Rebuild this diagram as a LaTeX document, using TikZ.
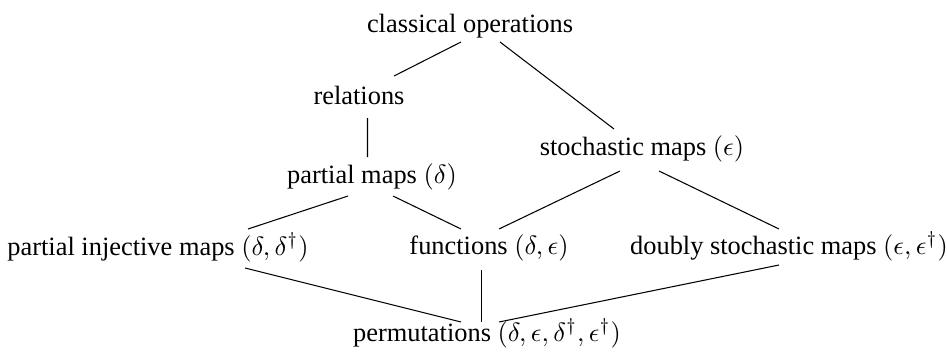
\documentclass[tikz,border=0pt]{standalone}
\usepackage{fontspec}
\setmainfont{Liberation Serif}
\usetikzlibrary{calc}
\begin{document}
\begin{tikzpicture}[x=0.3788pt,y=-0.3788pt,
  lbl/.style={anchor=base,inner sep=0pt,font=\fontsize{10pt}{12pt}\selectfont},
  edge/.style={line width=0.4pt}]
\useasboundingbox (0,0) rectangle (947,352);
\node[lbl] (co) at (470,32) {classical operations};
\node[lbl] (rel) at (359,104) {relations};
\node[lbl] (pm) at (372,183) {partial maps $(\delta)$};
\node[lbl] (sm) at (642,155) {stochastic maps $(\epsilon)$};
\node[lbl] (pim) at (158,255) {partial injective maps $(\delta,\delta^\dagger)$};
\node[lbl] (fn) at (489,254) {functions $(\delta,\epsilon)$};
\node[lbl] (dsm) at (789,254) {doubly stochastic maps $(\epsilon,\epsilon^\dagger)$};
\node[lbl] (perm) at (487,341) {permutations $(\delta,\epsilon,\delta^\dagger,\epsilon^\dagger)$};
\draw[edge] ($(co.base)+(-9,10)$) -- ($(rel.base)+(35,-28)$);
\draw[edge] ($(co.base)+(30,10)$) -- ($(sm.base)+(-28,-26)$);
\draw[edge] ($(rel.base)+(8.5,14)$) -- ($(pm.base)+(-4.5,-26)$);
\draw[edge] ($(pm.base)+(-24,13)$) -- ($(pim.base)+(90,-26)$);
\draw[edge] ($(pm.base)+(21,13)$) -- ($(fn.base)+(-28,-25)$);
\draw[edge] ($(sm.base)+(-22,16)$) -- ($(fn.base)+(10,-25)$);
\draw[edge] ($(sm.base)+(17,16)$) -- ($(dsm.base)+(-10,-25)$);
\draw[edge] ($(pim.base)+(87,13)$) -- ($(perm.base)+(-26,-19)$);
\draw[edge] ($(fn.base)+(-7.5,16)$) -- ($(perm.base)+(-5.5,-19)$);
\draw[edge] ($(dsm.base)+(-10,11)$) -- ($(perm.base)+(12,-19)$);
\end{tikzpicture}
\end{document}
